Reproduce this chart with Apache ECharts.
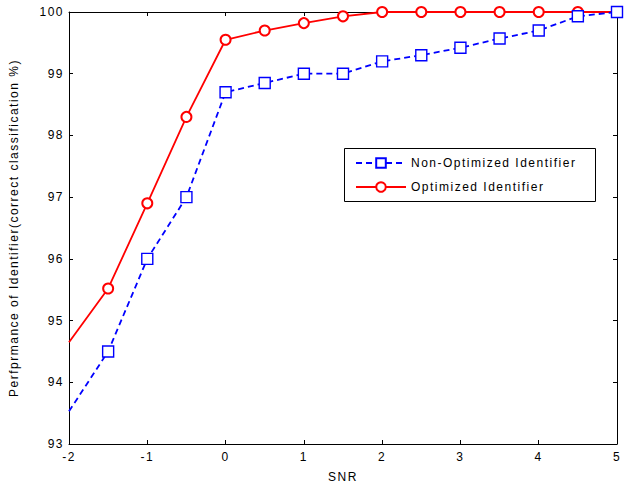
<html>
  <head>
    <meta charset="utf-8" />
    <script src="https://cdn.jsdelivr.net/npm/echarts@6/dist/echarts.min.js"></script>
  </head>
  <body>
    <style>
      html,
      body,
      #main {
        width: 100%;
        height: 100%;
        margin: 0;
        background: #fff;
      }
      /* the original export has widely spaced glyphs */
      #main text {
        letter-spacing: 1.5px;
      }
    </style>
    <div id="main"></div>
    <script>
      const snr = [-2, -1.5, -1, -0.5, 0, 0.5, 1, 1.5, 2, 2.5, 3, 3.5, 4, 4.5, 5];
      const nonOptimized = [93.53, 94.5, 96.0, 97.0, 98.7, 98.85, 99.0, 99.0, 99.2, 99.3, 99.42, 99.57, 99.7, 99.93, 100];
      const optimized = [94.65, 95.52, 96.9, 98.3, 99.55, 99.7, 99.82, 99.93, 100, 100, 100, 100, 100, 100, 100];
      const xTicks = [-2, -1, 0, 1, 2, 3, 4, 5];
      const yTicks = [93, 94, 95, 96, 97, 98, 99, 100];

      var font = "Liberation Sans, Arial, sans-serif";
      var fs = 12;

      // first point sits on the left border without a marker
      function pts(vals) {
        return vals.map(function (v, i) {
          var p = { value: [snr[i], v] };
          if (i === 0) p.symbol = "none";
          return p;
        });
      }

      var chart = echarts.init(document.getElementById("main"), null, { renderer: "svg" });

      var boxAxis = {
        axisLine: { show: true, onZero: false, lineStyle: { color: "#000", width: 1 } },
        axisTick: { show: true, inside: true, length: 4, lineStyle: { color: "#000" } },
        splitLine: { show: false },
      };

      var option = {
        animation: false,
        backgroundColor: "#fff",
        grid: { left: 67, right: 7, top: 12, bottom: 44 },
        graphic: [
          {
            type: "rect",
            left: 344,
            top: 148,
            z: 50,
            shape: { width: 251, height: 53 },
            style: { fill: "#fff", stroke: "#000", lineWidth: 1 },
          },
        ],
        legend: {
          orient: "vertical",
          left: 355,
          top: 157,
          padding: 0,
          itemGap: 12,
          itemWidth: 50,
          itemHeight: 12,
          z: 60,
          textStyle: { fontFamily: font, fontSize: fs, color: "#000" },
          data: ["Non-Optimized Identifier", "Optimized Identifier"],
        },
        xAxis: [
          Object.assign({}, boxAxis, {
            type: "value",
            min: -2,
            max: 5,
            interval: 1,
            name: "SNR",
            nameLocation: "middle",
            nameGap: 27,
            nameTextStyle: { fontFamily: font, fontSize: fs, color: "#000" },
            axisLabel: {
              fontFamily: font,
              fontSize: fs,
              color: "#000",
              margin: 7,
              customValues: xTicks,
            },
          }),
          Object.assign({}, boxAxis, {
            type: "value",
            position: "top",
            min: -2,
            max: 5,
            interval: 1,
            axisLabel: { show: false },
          }),
        ],
        yAxis: [
          Object.assign({}, boxAxis, {
            type: "value",
            min: 93,
            max: 100,
            interval: 1,
            name: "Perfprmance of Identifier(correct classification %)",
            nameLocation: "middle",
            nameGap: 49,
            nameTextStyle: { fontFamily: font, fontSize: fs, color: "#000" },
            axisLabel: {
              fontFamily: font,
              fontSize: fs,
              color: "#000",
              margin: 5,
              customValues: yTicks,
            },
          }),
          Object.assign({}, boxAxis, {
            type: "value",
            position: "right",
            min: 93,
            max: 100,
            interval: 1,
            axisLabel: { show: false },
          }),
        ],
        series: [
          {
            name: "Optimized Identifier",
            type: "line",
            z: 2,
            symbol: "emptyCircle",
            symbolSize: 10,
            color: "#ff0000",
            lineStyle: { color: "#ff0000", width: 1.8 },
            itemStyle: { color: "#ff0000", borderColor: "#ff0000", borderWidth: 1.4 },
            data: pts(optimized),
          },
          {
            name: "Non-Optimized Identifier",
            type: "line",
            z: 3,
            symbol: "rect",
            symbolSize: 11,
            color: "#0000ff",
            lineStyle: { color: "#0000ff", width: 1.8, type: [6, 4] },
            itemStyle: { color: "#fff", borderColor: "#0000ff", borderWidth: 1.4 },
            data: pts(nonOptimized),
          },
        ],
      };

      chart.setOption(option);
      window.onresize = chart.resize;
    </script>
  </body>
</html>
